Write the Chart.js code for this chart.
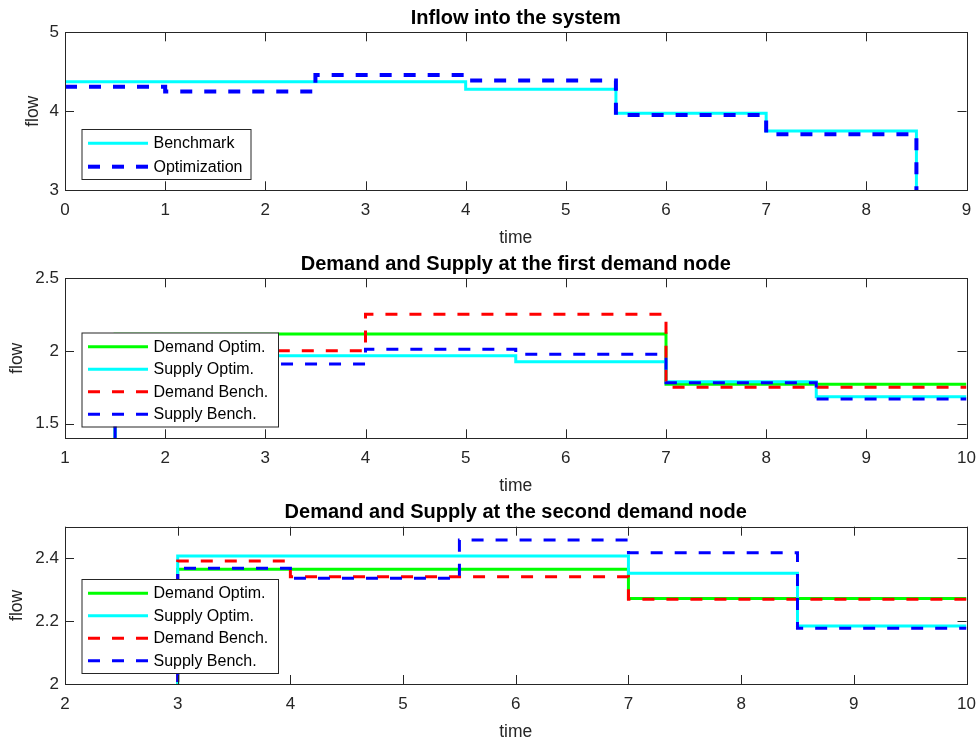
<!DOCTYPE html>
<html>
<head>
<meta charset="utf-8">
<script src="https://cdn.jsdelivr.net/npm/chart.js@4.4.1/dist/chart.umd.min.js"></script>
<style>
  html, body { margin: 0; padding: 0; background: #fff; }
  #wrap { position: relative; width: 979px; height: 740px; }
  canvas { position: absolute; left: 0; top: 0; }
</style>
</head>
<body>
<div id="wrap">
  <canvas id="c1" width="979" height="740"></canvas>
  <canvas id="c2" width="979" height="740"></canvas>
  <canvas id="c3" width="979" height="740"></canvas>
</div>
<script>
const W = 979, H = 740;
const AXIS = '#262626';
const FONT = '"Liberation Sans", Arial, Helvetica, sans-serif';

// Panel 1 - inflow into the system (value holds from each time until the next)
const time1 = [0, 1, 2.5, 4, 5.5, 7, 8.5, 9];
const benchmark1 = [4.375, 4.375, 4.375, 4.28, 3.975, 3.75, 0, 0];
const optimization1 = [4.31, 4.25, 4.46, 4.39, 3.953, 3.71, 0, 0];
const xTicks1 = [0, 1, 2, 3, 4, 5, 6, 7, 8, 9];
const yTicks1 = [3, 4, 5];

// Panel 2 - first demand node
const time2 = [1, 1.5, 4, 5.5, 7, 8.5, 10];
const demandOpt2 = [0, 2.117, 2.117, 2.117, 1.771, 1.771, 1.771];
const supplyOpt2 = [0, 1.968, 1.968, 1.927, 1.789, 1.686, 1.686];
const demandBench2 = [0, 2.002, 2.252, 2.252, 1.751, 1.751, 1.751];
const supplyBench2 = [0, 1.911, 2.012, 1.977, 1.782, 1.670, 1.670];
const xTicks2 = [1, 2, 3, 4, 5, 6, 7, 8, 9, 10];
const yTicks2 = [1.5, 2, 2.5];

// Panel 3 - second demand node
const time3 = [2, 3, 4, 5.5, 7, 8.5, 10];
const demandOpt3 = [0, 2.365, 2.365, 2.365, 2.272, 2.272, 2.272];
const supplyOpt3 = [0, 2.407, 2.407, 2.407, 2.352, 2.184, 2.184];
const demandBench3 = [0, 2.391, 2.341, 2.341, 2.269, 2.269, 2.269];
const supplyBench3 = [0, 2.368, 2.336, 2.458, 2.417, 2.177, 2.177];
const xTicks3 = [2, 3, 4, 5, 6, 7, 8, 9, 10];
const yTicks3 = [2, 2.2, 2.4];

// draws the matlab-ish box, inward ticks, titles and the legend
const matlabAxes = {
  id: 'matlabAxes',
  afterDatasetsDraw(chart, args, opts) {
    const { ctx, chartArea: a, scales: { x, y } } = chart;
    ctx.save();
    ctx.strokeStyle = AXIS;
    ctx.lineWidth = 1;
    ctx.beginPath();
    x.ticks.forEach(t => {
      const px = Math.round(x.getPixelForValue(t.value)) + 0.5;
      ctx.moveTo(px, a.bottom); ctx.lineTo(px, a.bottom - 9);
      ctx.moveTo(px, a.top); ctx.lineTo(px, a.top + 9);
    });
    y.ticks.forEach(t => {
      const py = Math.round(y.getPixelForValue(t.value)) + 0.5;
      ctx.moveTo(a.left, py); ctx.lineTo(a.left + 9, py);
      ctx.moveTo(a.right, py); ctx.lineTo(a.right - 9, py);
    });
    ctx.stroke();
    ctx.strokeRect(Math.round(a.left) + 0.5, Math.round(a.top) + 0.5,
                   Math.round(a.right) - Math.round(a.left), Math.round(a.bottom) - Math.round(a.top));

    ctx.fillStyle = '#000';
    ctx.textAlign = 'center';
    ctx.textBaseline = 'alphabetic';
    ctx.font = 'bold 20px ' + FONT;
    ctx.fillText(opts.title, (a.left + a.right) / 2, a.top - 8.3);

    ctx.fillStyle = AXIS;
    ctx.font = '17.5px ' + FONT;
    ctx.fillText('time', (a.left + a.right) / 2, a.bottom + 53);
    ctx.save();
    ctx.translate(opts.flowX, (a.top + a.bottom) / 2);
    ctx.rotate(-Math.PI / 2);
    ctx.fillText('flow', 0, 0);
    ctx.restore();
    ctx.restore();
  },
  afterDraw(chart, args, opts) {
    const { ctx } = chart;
    const b = opts.legend;
    ctx.save();
    ctx.fillStyle = '#fff';
    ctx.fillRect(b.x, b.y, b.w, b.h);
    ctx.strokeStyle = AXIS;
    ctx.lineWidth = 1;
    ctx.strokeRect(b.x + 0.5, b.y + 0.5, b.w, b.h);
    ctx.font = '16px ' + FONT;
    ctx.textAlign = 'left';
    ctx.textBaseline = 'middle';
    chart.data.datasets.forEach((ds, i) => {
      const ry = b.y + b.first + i * b.step;
      ctx.strokeStyle = ds.borderColor;
      ctx.lineWidth = ds.borderWidth;
      ctx.setLineDash(ds.borderDash);
      ctx.beginPath();
      ctx.moveTo(b.x + 6.5, ry);
      ctx.lineTo(b.x + 66.5, ry);
      ctx.stroke();
      ctx.setLineDash([]);
      ctx.fillStyle = '#000';
      ctx.fillText(ds.label, b.x + 72, ry + 0.5);
    });
    ctx.restore();
  }
};

function makePanel(id, time, series, xr, yr, xTicks, yTicks, top, bottom, title, flowX, legend) {
  const datasets = series.map((s, i) => ({
    label: s.label,
    data: time.map((t, k) => ({ x: t, y: s.values[k] })),
    borderColor: s.color,
    borderWidth: s.width,
    borderDash: s.dash,
    borderDashOffset: s.offset || 0,
    borderCapStyle: 'butt',
    stepped: 'before',
    pointRadius: 0,
    fill: false,
    order: series.length - i
  }));
  const tickFont = { family: FONT, size: 17 };
  return new Chart(document.getElementById(id), {
    type: 'line',
    data: { datasets },
    options: {
      responsive: false,
      animation: false,
      events: [],
      layout: { padding: { left: 0, right: W - 966.5, top: top, bottom: 0 } },
      plugins: {
        legend: { display: false },
        tooltip: { enabled: false },
        matlabAxes: { title, flowX, legend }
      },
      scales: {
        x: {
          type: 'linear', min: xr[0], max: xr[1],
          grid: { display: false, drawTicks: false },
          border: { display: false },
          ticks: { font: tickFont, color: AXIS, padding: 10, maxRotation: 0, autoSkip: false,
                   callback: v => String(v) },
          afterBuildTicks: s => { s.ticks = xTicks.map(v => ({ value: v })); },
          afterFit: s => { s.height = H - bottom; s.paddingLeft = 0; s.paddingRight = 0; }
        },
        y: {
          type: 'linear', min: yr[0], max: yr[1],
          grid: { display: false, drawTicks: false },
          border: { display: false },
          ticks: { font: tickFont, color: AXIS, padding: 6, autoSkip: false,
                   callback: v => String(v) },
          afterBuildTicks: s => { s.ticks = yTicks.map(v => ({ value: v })); },
          afterFit: s => { s.width = 65; s.paddingTop = 0; s.paddingBottom = 0; }
        }
      }
    },
    plugins: [matlabAxes]
  });
}

makePanel('c1', time1, [
  { label: 'Benchmark', values: benchmark1, color: '#00ffff', width: 3, dash: [] },
  { label: 'Optimization', values: optimization1, color: '#0000ff', width: 4, dash: [12, 12] }
], [0, 9], [3, 5], xTicks1, yTicks1, 32.3, 190.3, 'Inflow into the system', 37.5,
  { x: 81.5, y: 129, w: 169, h: 50, first: 14.3, step: 23.4 });

makePanel('c2', time2, [
  { label: 'Demand Optim.', values: demandOpt2, color: '#00ff00', width: 3, dash: [] },
  { label: 'Supply Optim.', values: supplyOpt2, color: '#00ffff', width: 3, dash: [] },
  { label: 'Demand Bench.', values: demandBench2, color: '#ff0000', width: 3, dash: [12, 12] },
  { label: 'Supply Bench.', values: supplyBench2, color: '#0000ff', width: 3, dash: [12, 12], offset: 10 }
], [1, 10], [1.4, 2.5], xTicks2, yTicks2, 278.3, 438.3, 'Demand and Supply at the first demand node', 22,
  { x: 81.5, y: 332.5, w: 196.5, h: 94, first: 14.2, step: 22.5 });

makePanel('c3', time3, [
  { label: 'Demand Optim.', values: demandOpt3, color: '#00ff00', width: 3, dash: [] },
  { label: 'Supply Optim.', values: supplyOpt3, color: '#00ffff', width: 3, dash: [] },
  { label: 'Demand Bench.', values: demandBench3, color: '#ff0000', width: 3, dash: [12, 12] },
  { label: 'Supply Bench.', values: supplyBench3, color: '#0000ff', width: 3, dash: [12, 12] }
], [2, 10], [2, 2.5], xTicks3, yTicks3, 526.7, 684, 'Demand and Supply at the second demand node', 22,
  { x: 81.5, y: 579, w: 196.5, h: 94, first: 14.2, step: 22.5 });
</script>
</body>
</html>
